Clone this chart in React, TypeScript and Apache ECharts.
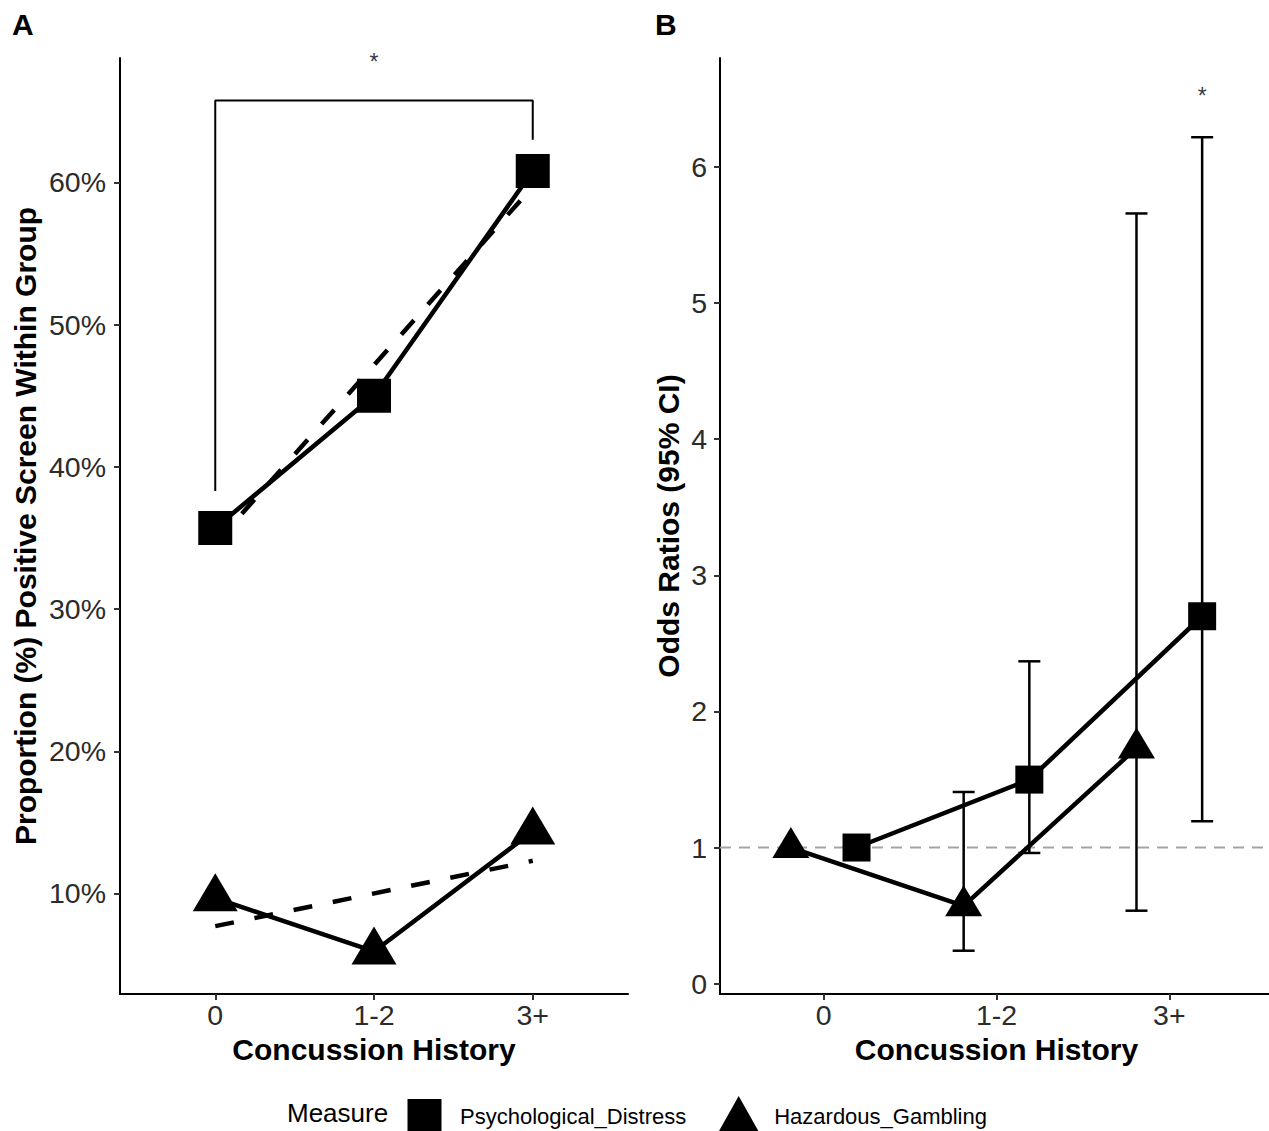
import React, { useEffect, useRef } from 'react';
import * as echarts from 'echarts';

// ---------- data ----------
const categories = ['0', '1-2', '3+'];
const catPos = [0, 1, 2];
const propTicks = [10, 20, 30, 40, 50, 60];
const orTicks = [0, 1, 2, 3, 4, 5, 6];

// Panel A: proportion (%) positive screen within group
const psychProp = [35.7, 45.0, 60.8];
const gambProp = [9.67, 5.92, 14.36];
const psychTrend = [34.6, 59.7]; // dashed fit at "0" and "3+"
const gambTrend = [7.7, 12.3];
const bracketY = [38.3, 65.77, 65.77, 63.0];
const bracketX = [0, 0, 2, 2];
const sigA = { x: 1, y: 68.5 };

// Panel B: odds ratios (95% CI)
const psychOR = [1.0, 1.499, 2.699];
const psychLo = [1.0, 0.96, 1.193];
const psychHi = [1.0, 2.368, 6.218];
const gambOR = [1.0, 0.572, 1.732];
const gambLo = [1.0, 0.242, 0.536];
const gambHi = [1.0, 1.408, 5.658];
const refOR = 1;
const dodge = 0.19;
const sigB = { x: 2 + dodge, y: 6.52 };

const FONT = '"Liberation Sans", Arial, Helvetica, sans-serif';

export default function App() {
  const ref = useRef<HTMLDivElement>(null);
  useEffect(() => {
    if (!ref.current) return;
    const chart = echarts.init(ref.current, null, { renderer: 'svg' });

    const xAxis = (gridIndex: number) => ({
      gridIndex,
      type: 'value',
      min: -0.6,
      max: 2.6,
      name: 'Concussion History',
      nameLocation: 'middle',
      nameGap: 40,
      nameTextStyle: { fontFamily: FONT, fontSize: 30, fontWeight: 'bold', color: '#000' },
      axisLine: { show: true, onZero: false, lineStyle: { color: '#000', width: 2 } },
      axisTick: { show: true, customValues: catPos, length: 6, lineStyle: { color: '#333', width: 2 } },
      axisLabel: {
        customValues: catPos,
        formatter: (v: number) => categories[Math.round(v)],
        fontSize: 28.5,
        fontFamily: FONT,
        color: '#2b2b2b',
        margin: 6,
      },
      splitLine: { show: false },
    });

    const yAxisCommon = {
      type: 'value',
      nameLocation: 'middle',
      nameRotate: 90,
      nameTextStyle: { fontFamily: FONT, fontSize: 30, fontWeight: 'bold', color: '#000' },
      axisLine: { show: true, onZero: false, lineStyle: { color: '#000', width: 2 } },
      splitLine: { show: false },
    };

    const errData = (
      or: number[], lo: number[], hi: number[], off: number
    ) => catPos.filter((_, i) => hi[i] > lo[i]).map((c) => {
      const i = catPos.indexOf(c);
      return [c + off, lo[i], hi[i], or[i]];
    });

    const errRender = (params: any, api: any) => {
      const x = api.value(0);
      const pLo = api.coord([x, api.value(1)]);
      const pHi = api.coord([x, api.value(2)]);
      const hw = 11;
      const style = { stroke: '#000', lineWidth: 2.5 };
      return {
        type: 'group',
        children: [
          { type: 'line', shape: { x1: pLo[0], y1: pLo[1], x2: pHi[0], y2: pHi[1] }, style },
          { type: 'line', shape: { x1: pLo[0] - hw, y1: pLo[1], x2: pLo[0] + hw, y2: pLo[1] }, style },
          { type: 'line', shape: { x1: pHi[0] - hw, y1: pHi[1], x2: pHi[0] + hw, y2: pHi[1] }, style },
        ],
      };
    };

    const starLabel = {
      show: true,
      position: 'inside',
      formatter: '*',
      fontSize: 23,
      fontFamily: FONT,
      color: '#000',
    };

    const option: any = {
      animation: false,
      backgroundColor: '#fff',
      grid: [
        { left: 120, top: 58, width: 508, height: 936, outerBoundsMode: 'none' },
        { left: 720, top: 58, width: 553, height: 936, outerBoundsMode: 'none' },
      ],
      xAxis: [xAxis(0), xAxis(1)],
      yAxis: [
        {
          ...yAxisCommon,
          gridIndex: 0,
          min: 2.93,
          max: 68.75,
          name: 'Proportion (%) Positive Screen Within Group',
          nameGap: 80,
          axisTick: { show: true, customValues: propTicks, length: 6, lineStyle: { color: '#333', width: 2 } },
          axisLabel: {
            customValues: propTicks,
            formatter: (v: number) => `${Math.round(v)}%`,
            fontSize: 28.5,
            fontFamily: FONT,
            color: '#2b2b2b',
            margin: 14,
          },
        },
        {
          ...yAxisCommon,
          gridIndex: 1,
          min: -0.076,
          max: 6.8,
          name: 'Odds Ratios (95% CI)',
          nameGap: 37,
          axisTick: { show: true, customValues: orTicks, length: 6, lineStyle: { color: '#333', width: 2 } },
          axisLabel: {
            customValues: orTicks,
            formatter: (v: number) => `${Math.round(v)}`,
            fontSize: 28.5,
            fontFamily: FONT,
            color: '#2b2b2b',
            margin: 13,
          },
        },
      ],
      legend: {
        left: 397,
        top: 1091,
        itemWidth: 45,
        itemHeight: 40,
        itemGap: 30,
        selectedMode: false,
        itemStyle: { borderWidth: 0 },
        data: [
          { name: 'Psychological_Distress', icon: 'path://M-5.5,-3M39.5,37M0,0h34v34h-34z' },
          { name: 'Hazardous_Gambling', icon: 'triangle' },
        ],
        textStyle: { fontSize: 22, fontFamily: FONT, color: '#000', padding: [0, 0, 0, 8] },
      },
      graphic: [
        { type: 'text', left: 12, top: 9, style: { text: 'A', fontSize: 30, fontWeight: 'bold', fontFamily: FONT, fill: '#000' } },
        { type: 'text', left: 655, top: 9, style: { text: 'B', fontSize: 30, fontWeight: 'bold', fontFamily: FONT, fill: '#000' } },
        { type: 'text', left: 287, top: 1100, style: { text: 'Measure', fontSize: 26, fontFamily: FONT, fill: '#000' } },
      ],
      series: [
        // ---- Panel A ----
        {
          name: 'Psychological_Distress fit',
          type: 'line', xAxisIndex: 0, yAxisIndex: 0,
          data: [[catPos[0], psychTrend[0]], [catPos[2], psychTrend[1]]],
          symbol: 'none',
          lineStyle: { color: '#000', width: 4.5, type: [19, 21] },
          z: 3,
        },
        {
          name: 'Hazardous_Gambling fit',
          type: 'line', xAxisIndex: 0, yAxisIndex: 0,
          data: [[catPos[0], gambTrend[0]], [catPos[2], gambTrend[1]]],
          symbol: 'none',
          lineStyle: { color: '#000', width: 4.5, type: [19, 21] },
          z: 3,
        },
        {
          name: 'Psychological_Distress',
          type: 'line', xAxisIndex: 0, yAxisIndex: 0,
          data: catPos.map((c, i) => [c, psychProp[i]]),
          symbol: 'rect', symbolSize: 34,
          itemStyle: { color: '#000' },
          lineStyle: { color: '#000', width: 4.5 },
          z: 2,
        },
        {
          name: 'Hazardous_Gambling',
          type: 'line', xAxisIndex: 0, yAxisIndex: 0,
          data: catPos.map((c, i) => [c, gambProp[i]]),
          symbol: 'triangle', symbolSize: [45, 38], symbolOffset: [0, -6],
          itemStyle: { color: '#000' },
          lineStyle: { color: '#000', width: 4.5 },
          z: 2,
        },
        {
          name: 'bracket',
          type: 'line', xAxisIndex: 0, yAxisIndex: 0,
          data: bracketX.map((x, i) => [x, bracketY[i]]),
          symbol: 'none',
          lineStyle: { color: '#000', width: 2 },
        },
        {
          name: 'sigA',
          type: 'scatter', xAxisIndex: 0, yAxisIndex: 0,
          data: [[sigA.x, sigA.y]],
          symbolSize: 2,
          itemStyle: { color: 'transparent' },
          label: starLabel,
        },
        // ---- Panel B ----
        {
          name: 'ref',
          type: 'line', xAxisIndex: 1, yAxisIndex: 1,
          data: [[-0.6, refOR], [2.6, refOR]],
          symbol: 'none',
          lineStyle: { color: '#a3a3a3', width: 2, type: [11, 8] },
          z: 1,
        },
        {
          name: 'Psychological_Distress',
          type: 'line', xAxisIndex: 1, yAxisIndex: 1,
          data: catPos.map((c, i) => [c + dodge, psychOR[i]]),
          symbol: 'rect', symbolSize: 28,
          itemStyle: { color: '#000' },
          lineStyle: { color: '#000', width: 4.5 },
          z: 2,
        },
        {
          name: 'Hazardous_Gambling',
          type: 'line', xAxisIndex: 1, yAxisIndex: 1,
          data: catPos.map((c, i) => [c - dodge, gambOR[i]]),
          symbol: 'triangle', symbolSize: [37, 31], symbolOffset: [0, -5],
          itemStyle: { color: '#000' },
          lineStyle: { color: '#000', width: 4.5 },
          z: 2,
        },
        {
          name: 'psych CI',
          type: 'custom', xAxisIndex: 1, yAxisIndex: 1,
          data: errData(psychOR, psychLo, psychHi, dodge),
          encode: { x: 0, y: [1, 2] },
          renderItem: errRender,
          z: 3,
        },
        {
          name: 'gamb CI',
          type: 'custom', xAxisIndex: 1, yAxisIndex: 1,
          data: errData(gambOR, gambLo, gambHi, -dodge),
          encode: { x: 0, y: [1, 2] },
          renderItem: errRender,
          z: 3,
        },
        {
          name: 'sigB',
          type: 'scatter', xAxisIndex: 1, yAxisIndex: 1,
          data: [[sigB.x, sigB.y]],
          symbolSize: 2,
          itemStyle: { color: 'transparent' },
          label: starLabel,
        },
      ],
    };

    chart.setOption(option);
    return () => chart.dispose();
  }, []);

  return (
    <div
      ref={ref}
      style={{ position: 'absolute', left: 0, top: 0, width: 1269, height: 1131, background: '#fff' }}
    />
  );
}
